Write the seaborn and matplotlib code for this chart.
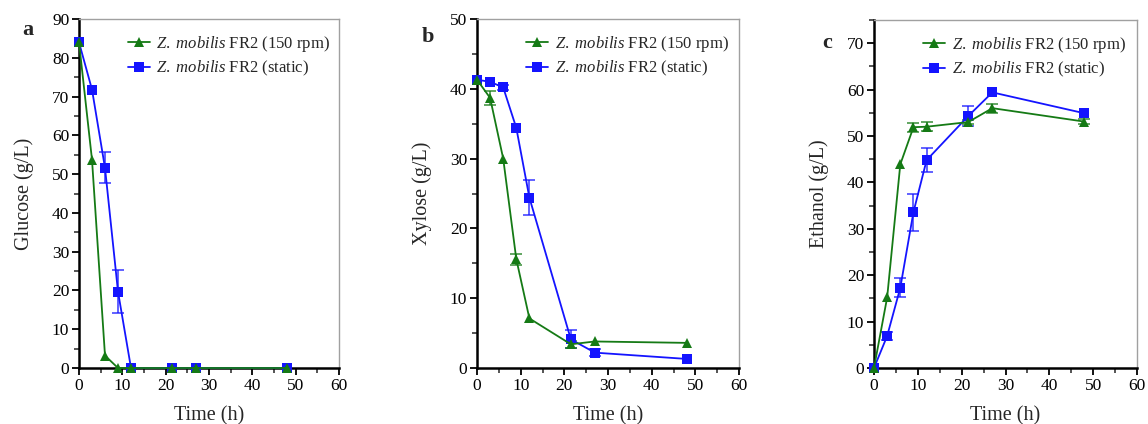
import matplotlib
matplotlib.use("Agg")
import matplotlib.pyplot as plt
import seaborn as sns
import numpy as np
import pandas as pd
from matplotlib.ticker import MultipleLocator

# ---------------- data ----------------
times = [0, 3, 6, 9, 12, 21.5, 27, 48]

glucose_rpm = [84.0, 53.7, 3.2, 0.0, 0.0, 0.0, 0.0, 0.0]
glucose_rpm_err = [0, 0, 0, 0, 0, 0, 0, 0]
glucose_static = [84.0, 71.8, 51.6, 19.7, 0.0, 0.0, 0.0, 0.0]
glucose_static_err = [0, 0, 4.0, 5.5, 0, 0, 0, 0]

xylose_rpm = [41.3, 38.7, 30.0, 15.6, 7.1, 3.4, 3.8, 3.6]
xylose_rpm_err = [0, 1.0, 0, 0.8, 0, 0.5, 0, 0]
xylose_static = [41.3, 41.0, 40.2, 34.4, 24.4, 4.1, 2.2, 1.3]
xylose_static_err = [0, 0, 0.4, 0, 2.5, 1.3, 0.5, 0]

ethanol_rpm = [0.0, 15.2, 43.9, 51.9, 52.0, 53.0, 56.0, 53.1]
ethanol_rpm_err = [0, 0, 0, 1.0, 1.0, 0.5, 1.0, 0.6]
ethanol_static = [0.0, 6.9, 17.3, 33.6, 44.8, 54.3, 59.4, 54.9]
ethanol_static_err = [0, 0.8, 2.0, 4.0, 2.6, 2.2, 0, 0]

label_rpm = r"$\mathit{Z.\ mobilis}$ FR2 (150 rpm)"
label_static = r"$\mathit{Z.\ mobilis}$ FR2 (static)"
ylabels = ["Glucose (g/L)", "Xylose (g/L)", "Ethanol (g/L)"]
panel_letters = ["a", "b", "c"]
ylims = [(0, 90), (0, 50), (0, 75)]
ymajors = [10, 10, 10]

# ---------------- style ----------------
sns.set_theme(style="ticks")
plt.rcParams["font.family"] = ["Liberation Serif", "DejaVu Serif"]
plt.rcParams["mathtext.fontset"] = "custom"
plt.rcParams["mathtext.it"] = "Liberation Serif:italic"
plt.rcParams["mathtext.rm"] = "Liberation Serif"

green = "#157a15"
blue = "#1414ff"

fig = plt.figure(figsize=(11.48, 4.24), dpi=100)
positions = [
    [79 / 1148, 56 / 424, 260 / 1148, 349 / 424],
    [477 / 1148, 56 / 424, 262 / 1148, 349 / 424],
    [874 / 1148, 56 / 424, 263 / 1148, 348 / 424],
]
letter_pos = [(22 / 1148, 1 - 35 / 424), (422 / 1148, 1 - 42 / 424), (822 / 1148, 1 - 48 / 424)]

panels = [
    (glucose_rpm, glucose_rpm_err, glucose_static, glucose_static_err),
    (xylose_rpm, xylose_rpm_err, xylose_static, xylose_static_err),
    (ethanol_rpm, ethanol_rpm_err, ethanol_static, ethanol_static_err),
]

for i, (g, ge, b, be) in enumerate(panels):
    ax = fig.add_axes(positions[i])
    df = pd.DataFrame({
        "Time": times + times,
        "Value": b + g,
        "Strain": [label_static] * len(times) + [label_rpm] * len(times),
    })
    sns.lineplot(
        data=df, x="Time", y="Value", hue="Strain", style="Strain",
        hue_order=[label_static, label_rpm], style_order=[label_static, label_rpm],
        palette={label_static: blue, label_rpm: green},
        markers={label_static: "s", label_rpm: "^"}, dashes=False,
        markersize=7.5, linewidth=1.3, markeredgewidth=0, errorbar=None, ax=ax,
    )
    for ln in ax.lines:
        ln.set_clip_on(False)
        ln.set_zorder(3)
        if ln.get_marker() == "^":
            ln.set_markersize(7)
            ln.set_zorder(4)
    for vals, errs, col in [(b, be, blue), (g, ge, green)]:
        tt = [t for t, e in zip(times, errs) if e > 0]
        vv = [v for v, e in zip(vals, errs) if e > 0]
        ee = [e for e in errs if e > 0]
        if tt:
            ax.errorbar(tt, vv, yerr=ee, fmt="none", ecolor=col, elinewidth=1.1,
                        capsize=4, capthick=1.1, alpha=0.85, zorder=2)

    ax.set_xlim(0, 60)
    ax.set_ylim(*ylims[i])
    ax.xaxis.set_major_locator(MultipleLocator(10))
    ax.xaxis.set_minor_locator(MultipleLocator(5))
    ax.yaxis.set_major_locator(MultipleLocator(ymajors[i]))
    ax.yaxis.set_minor_locator(MultipleLocator(5))
    ax.tick_params(which="major", direction="out", length=5, width=1.3,
                   labelsize=12.5, colors="black", pad=2)
    ax.tick_params(which="minor", direction="out", length=3.5, width=1.1)
    for side in ["left", "bottom"]:
        ax.spines[side].set_linewidth(1.8)
        ax.spines[side].set_color("black")
    for side in ["top", "right"]:
        ax.spines[side].set_visible(True)
        ax.spines[side].set_linewidth(1.0)
        ax.spines[side].set_color("#a0a0a0")
    ax.set_xlabel("Time (h)", fontsize=14.5, labelpad=9)
    ax.set_ylabel(ylabels[i], fontsize=14.5, labelpad=13)

    handles, labels = ax.get_legend_handles_labels()
    order = [labels.index(label_rpm), labels.index(label_static)]
    ax.legend([handles[k] for k in order], [labels[k] for k in order],
              loc="upper left", bbox_to_anchor=(0.15, 0.985), frameon=False,
              fontsize=12, handlelength=1.3, handletextpad=0.4,
              labelspacing=0.3, borderaxespad=0.2)
    for h in ax.get_legend().legend_handles:
        h.set_markersize(6.5)

    fig.text(*letter_pos[i], panel_letters[i], fontsize=16, fontweight="bold",
             ha="left", va="baseline")

fig.savefig("out.png", dpi=100)
